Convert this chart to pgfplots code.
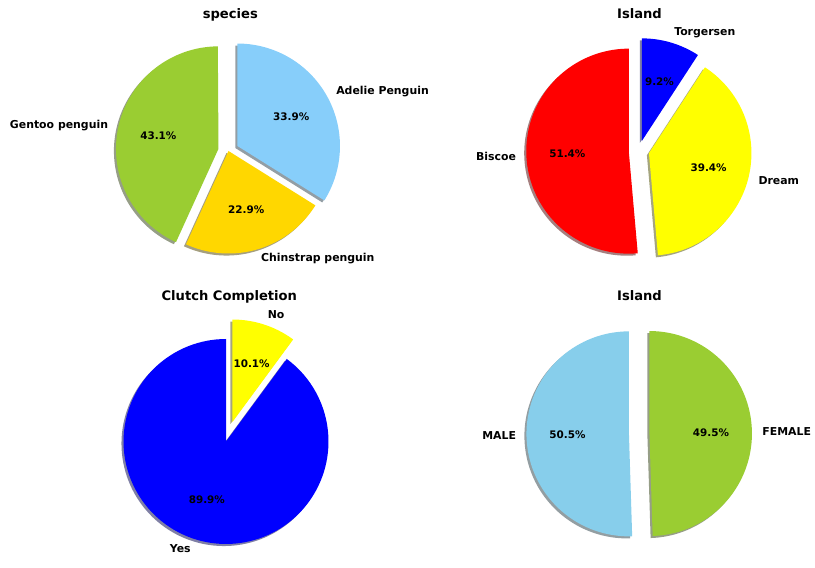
\documentclass[border=0pt]{standalone}
\usepackage{fontspec}
\setmainfont{DejaVu Sans}
\usepackage{pgfplots}
\pgfplotsset{compat=1.18}

\definecolor{yellowgreen}{RGB}{154,205,50}
\definecolor{lightskyblue}{RGB}{135,206,250}
\definecolor{gold}{RGB}{255,215,0}
\definecolor{skyblue}{RGB}{135,206,235}
\definecolor{pred}{RGB}{255,0,0}
\definecolor{pyellow}{RGB}{255,255,0}
\definecolor{pblue}{RGB}{0,0,255}

\newcommand\lblfont{\fontsize{10.9}{12}\selectfont\bfseries}
\newcommand\pctfont{\fontsize{10.4}{11}\selectfont\bfseries}
\newcommand\ttlfont{\fontsize{13.1}{15}\selectfont\bfseries}

% #1 start (percent), #2 share (percent), #3 explode, #4 colour
\newcommand\pieshadow[4]{%
  \addplot[draw=none, fill=#4!30!black, fill opacity=0.5, no markers, samples=120, variable=\t,
    domain=90-3.6*(#1+#2):90-3.6*(#1)]
    ({#3*cos(90-3.6*(#1+0.5*#2))-0.02+cos(\t)}, {#3*sin(90-3.6*(#1+0.5*#2))-0.02+sin(\t)})
    -- (axis cs:{#3*cos(90-3.6*(#1+0.5*#2))-0.02},{#3*sin(90-3.6*(#1+0.5*#2))-0.02}) -- cycle;
}
% #1 start, #2 share, #3 explode, #4 colour, #5 label, #6 anchor
\newcommand\pieslice[6]{%
  \addplot[draw=none, fill=#4, no markers, samples=120, variable=\t,
    domain=90-3.6*(#1+#2):90-3.6*(#1)]
    ({#3*cos(90-3.6*(#1+0.5*#2))+cos(\t)}, {#3*sin(90-3.6*(#1+0.5*#2))+sin(\t)})
    -- (axis cs:{#3*cos(90-3.6*(#1+0.5*#2))},{#3*sin(90-3.6*(#1+0.5*#2))}) -- cycle;
  \node[anchor=#6, inner sep=0pt, font=\lblfont]
    at (axis cs:{(#3+1.1)*cos(90-3.6*(#1+0.5*#2))},{(#3+1.1)*sin(90-3.6*(#1+0.5*#2))}) {#5};
  \node[inner sep=0pt, font=\pctfont]
    at (axis cs:{(#3+0.6)*cos(90-3.6*(#1+0.5*#2))},{(#3+0.6)*sin(90-3.6*(#1+0.5*#2))}) {#2\%};
}

\pgfplotsset{pieaxis/.style={anchor=center, x=102.5pt, y=102.5pt,
  xmin=-1.4, xmax=1.4, ymin=-1.15, ymax=1.15, hide axis, clip=false}}

\begin{document}
\begin{tikzpicture}
% species
\begin{axis}[pieaxis, at={(228.5pt,417pt)}]
  \pieshadow{0}{33.9}{0.1}{lightskyblue}
  \pieshadow{33.9}{22.9}{0}{gold}
  \pieshadow{56.8}{43.1}{0.1}{yellowgreen}
  \pieslice{0}{33.9}{0.1}{lightskyblue}{Adelie Penguin}{west}
  \pieslice{33.9}{22.9}{0}{gold}{Chinstrap penguin}{west}
  \pieslice{56.8}{43.1}{0.1}{yellowgreen}{Gentoo penguin}{east}
\end{axis}
% Island
\begin{axis}[pieaxis, at={(639pt,417.3pt)}]
  \pieshadow{0}{9.2}{0.1}{pblue}
  \pieshadow{9.2}{39.4}{0.1}{pyellow}
  \pieshadow{48.6}{51.4}{0.1}{pred}
  \pieslice{0}{9.2}{0.1}{pblue}{Torgersen}{west}
  \pieslice{9.2}{39.4}{0.1}{pyellow}{Dream}{west}
  \pieslice{48.6}{51.4}{0.1}{pred}{Biscoe}{east}
\end{axis}
% Clutch Completion
\begin{axis}[pieaxis, at={(226pt,126.5pt)}]
  \pieshadow{0}{10.1}{0.2}{pyellow}
  \pieshadow{10.1}{89.9}{0}{pblue}
  \pieslice{0}{10.1}{0.2}{pyellow}{No}{west}
  \pieslice{10.1}{89.9}{0}{pblue}{Yes}{east}
\end{axis}
% Sex
\begin{axis}[pieaxis, at={(639.2pt,134.3pt)}]
  \pieshadow{0}{49.5}{0.1}{yellowgreen}
  \pieshadow{49.5}{50.5}{0.1}{skyblue}
  \pieslice{0}{49.5}{0.1}{yellowgreen}{FEMALE}{west}
  \pieslice{49.5}{50.5}{0.1}{skyblue}{MALE}{east}
\end{axis}
\node[anchor=base, font=\ttlfont] at (230.3pt,549.7pt) {species};
\node[anchor=base, font=\ttlfont] at (639.5pt,549.7pt) {Island};
\node[anchor=base, font=\ttlfont] at (229.3pt,267.3pt) {Clutch Completion};
\node[anchor=base, font=\ttlfont] at (639.5pt,267.3pt) {Island};
\pgfresetboundingbox
\useasboundingbox (0pt,0pt) rectangle (815pt,568pt);
\end{tikzpicture}
\end{document}
